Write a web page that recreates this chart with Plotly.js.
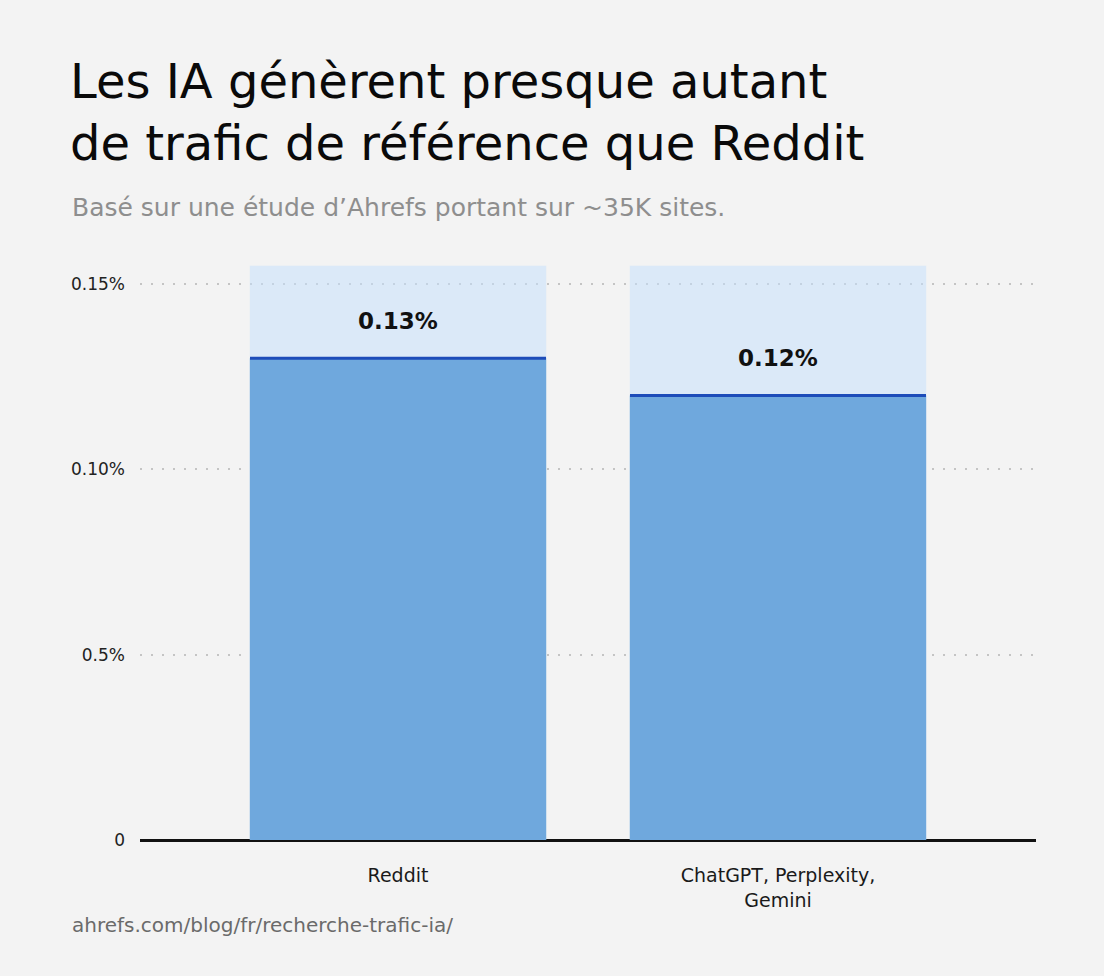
<!DOCTYPE html>
<html>
<head>
<meta charset="utf-8">
<script src="https://cdn.plot.ly/plotly-3.0.1.min.js"></script>
<style>
  html, body { margin: 0; padding: 0; background: #f3f3f3; }
  #chart { width: 1104px; height: 976px; }
</style>
</head>
<body>
<div id="chart"></div>
<script>
// données
const categories = ['Reddit', 'ChatGPT, Perplexity,<br>Gemini']
const shares = [0.13, 0.12]
const shareLabels = ['0.13%', '0.12%']
const backdrop = [0.155, 0.155]
const tickValues = [0, 0.05, 0.10, 0.15]
const tickLabels = ['0', '0.5%', '0.10%', '0.15%']

const font = 'DejaVu Sans, Liberation Sans, sans-serif'

// fond clair derrière chaque barre (transparent pour laisser voir la grille)
const backTrace = {
  type: 'bar',
  x: categories,
  y: backdrop,
  width: 0.78,
  marker: { color: 'rgba(195,223,253,0.5)' },
  hoverinfo: 'skip'
}

// barre principale, avec un trait foncé au sommet (error bar sans amplitude)
const mainTrace = {
  type: 'bar',
  x: categories,
  y: shares,
  width: 0.78,
  marker: { color: '#6fa8dd' },
  error_y: { type: 'data', array: [0, 0], width: 148, thickness: 3, color: '#1d4cb9' }
}

const valueNotes = categories.map((c, i) => ({
  x: c, y: shares[i], xref: 'x', yref: 'y',
  text: '<b>' + shareLabels[i] + '</b>',
  showarrow: false, yanchor: 'bottom', yshift: 22,
  font: { family: font, size: 23, color: '#111' }
}))

const layout = {
  width: 1104,
  height: 976,
  paper_bgcolor: '#f3f3f3',
  plot_bgcolor: '#f3f3f3',
  margin: { l: 140, r: 68, t: 262, b: 136 },
  showlegend: false,
  barmode: 'overlay',
  title: {
    text: 'Les IA génèrent presque autant<br>de trafic de référence que Reddit',
    xref: 'container', yref: 'container',
    x: 70 / 1104, xanchor: 'left',
    y: 1 - 98 / 976, yanchor: 'top',
    font: { family: font, size: 48, color: '#0a0a0a' }
  },
  xaxis: {
    type: 'category',
    range: [-0.679, 1.679],
    showgrid: false,
    showline: false,
    zeroline: false,
    ticks: '',
    ticklabelstandoff: 22,
    tickfont: { family: font, size: 19, color: '#1a1a1a' },
    automargin: false
  },
  yaxis: {
    range: [0, 0.156],
    tickvals: tickValues,
    ticktext: tickLabels,
    tickfont: { family: font, size: 17, color: '#222' },
    ticklabelstandoff: 14,
    showgrid: true,
    gridcolor: '#c4c4c4',
    griddash: '2px,9px',
    gridwidth: 2,
    zeroline: true,
    zerolinecolor: '#111',
    zerolinewidth: 3,
    showline: false,
    ticks: '',
    automargin: false
  },
  annotations: [
    ...valueNotes,
    {
      text: 'Basé sur une étude d’Ahrefs portant sur ~35K sites.',
      xref: 'paper', yref: 'paper', x: -0.078, y: 1.095,
      xanchor: 'left', yanchor: 'middle', showarrow: false,
      font: { family: font, size: 25, color: '#8e8e8e' }
    },
    {
      text: 'ahrefs.com/blog/fr/recherche-trafic-ia/',
      xref: 'paper', yref: 'paper', x: -0.078, y: -0.147,
      xanchor: 'left', yanchor: 'middle', showarrow: false,
      font: { family: font, size: 20, color: '#6a6a6a' }
    }
  ]
}

Plotly.newPlot('chart', [backTrace, mainTrace], layout, { displayModeBar: false, staticPlot: true })
</script>
</body>
</html>
